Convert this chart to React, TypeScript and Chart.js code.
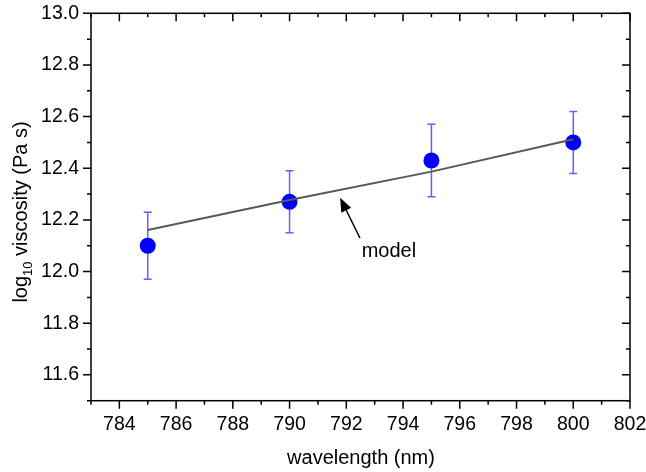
import React, { useEffect, useRef } from "react";
import { Chart, registerables } from "chart.js";

Chart.register(...registerables);

const wavelengths = [785, 790, 795, 800];
const viscosity = [12.10, 12.27, 12.43, 12.50];
const viscosityErr = [0.13, 0.12, 0.14, 0.12];
const modelWavelengths = [785, 790, 795, 800];
const modelViscosity = [12.161, 12.277, 12.387, 12.512];
const xTicks = [784, 786, 788, 790, 792, 794, 796, 798, 800, 802];
const yTicks = [11.6, 11.8, 12.0, 12.2, 12.4, 12.6, 12.8, 13.0];
const xMinorTicks = [783, 785, 787, 789, 791, 793, 795, 797, 799, 801];
const yMinorTicks = [11.5, 11.7, 11.9, 12.1, 12.3, 12.5, 12.7, 12.9];
const xTitle = "wavelength (nm)";
const annotationText = "model";
const annotationPos = { x: 792.54, y: 12.058 };
const arrowTail = { x: 792.48, y: 12.13 };
const arrowTip = { x: 791.78, y: 12.286 };

const FONT = 'Arial, "Liberation Sans", sans-serif';

const customPlugin = {
  id: "custom",
  beforeDatasetsDraw(chart: any) {
    const ctx = chart.ctx;
    const xs = chart.scales.x;
    const ys = chart.scales.y;
    ctx.save();
    ctx.strokeStyle = "rgba(30,30,255,0.7)";
    ctx.lineWidth = 1.5;
    wavelengths.forEach((w, i) => {
      const px = xs.getPixelForValue(w);
      const top = ys.getPixelForValue(viscosity[i] + viscosityErr[i]);
      const bot = ys.getPixelForValue(viscosity[i] - viscosityErr[i]);
      ctx.beginPath();
      ctx.moveTo(px, top);
      ctx.lineTo(px, bot);
      ctx.moveTo(px - 4, top);
      ctx.lineTo(px + 4, top);
      ctx.moveTo(px - 4, bot);
      ctx.lineTo(px + 4, bot);
      ctx.stroke();
    });
    ctx.restore();
  },
  afterDraw(chart: any) {
    const ctx = chart.ctx;
    const xs = chart.scales.x;
    const ys = chart.scales.y;
    const a = chart.chartArea;
    ctx.save();
    ctx.strokeStyle = "#000";
    ctx.lineWidth = 1.5;
    ctx.strokeRect(a.left, a.top, a.right - a.left, a.bottom - a.top);
    const MAJ = 8;
    const MIN = 4;
    ctx.beginPath();
    const xt = (v: number, len: number) => {
      const p = xs.getPixelForValue(v);
      ctx.moveTo(p, a.bottom);
      ctx.lineTo(p, a.bottom + len);
      ctx.moveTo(p, a.top);
      ctx.lineTo(p, a.top + len);
    };
    const yt = (v: number, len: number) => {
      const p = ys.getPixelForValue(v);
      ctx.moveTo(a.left, p);
      ctx.lineTo(a.left - len, p);
      ctx.moveTo(a.right, p);
      ctx.lineTo(a.right - len, p);
    };
    xTicks.forEach((v) => xt(v, MAJ));
    xMinorTicks.forEach((v) => xt(v, MIN));
    yTicks.forEach((v) => yt(v, MAJ));
    yMinorTicks.forEach((v) => yt(v, MIN));
    ctx.stroke();

    // annotation
    ctx.fillStyle = "#000";
    ctx.font = `20px ${FONT}`;
    ctx.textAlign = "left";
    ctx.textBaseline = "alphabetic";
    ctx.fillText(annotationText, xs.getPixelForValue(annotationPos.x), ys.getPixelForValue(annotationPos.y));
    const tx = xs.getPixelForValue(arrowTail.x);
    const ty = ys.getPixelForValue(arrowTail.y);
    const hx = xs.getPixelForValue(arrowTip.x);
    const hy = ys.getPixelForValue(arrowTip.y);
    const ang = Math.atan2(hy - ty, hx - tx);
    const hl = 14;
    const hw = 5.5;
    const bx = hx - hl * Math.cos(ang);
    const by = hy - hl * Math.sin(ang);
    ctx.lineWidth = 1.5;
    ctx.beginPath();
    ctx.moveTo(tx, ty);
    ctx.lineTo(bx, by);
    ctx.stroke();
    ctx.beginPath();
    ctx.moveTo(hx, hy);
    ctx.lineTo(bx + hw * Math.sin(ang), by - hw * Math.cos(ang));
    ctx.lineTo(bx - hw * Math.sin(ang), by + hw * Math.cos(ang));
    ctx.closePath();
    ctx.fill();

    // axis titles
    ctx.font = `20px ${FONT}`;
    ctx.textAlign = "center";
    ctx.fillText(xTitle, (a.left + a.right) / 2 + 0.5, 464);

    ctx.save();
    ctx.translate(27, 212);
    ctx.rotate(-Math.PI / 2);
    const p1 = "log";
    const sub = "10";
    const p2 = " viscosity (Pa s)";
    ctx.font = `20px ${FONT}`;
    const w1 = ctx.measureText(p1).width;
    const w3 = ctx.measureText(p2).width;
    ctx.font = `13px ${FONT}`;
    const w2 = ctx.measureText(sub).width;
    const total = w1 + w2 + w3;
    let x0 = -total / 2;
    ctx.textAlign = "left";
    ctx.font = `20px ${FONT}`;
    ctx.fillText(p1, x0, 0);
    x0 += w1;
    ctx.font = `13px ${FONT}`;
    ctx.fillText(sub, x0, 5);
    x0 += w2;
    ctx.font = `20px ${FONT}`;
    ctx.fillText(p2, x0, 0);
    ctx.restore();
    ctx.restore();
  },
};

export default function App() {
  const ref = useRef<HTMLCanvasElement>(null);
  useEffect(() => {
    document.body.style.margin = "0";
    const chart = new Chart(ref.current!, {
      type: "scatter",
      data: {
        datasets: [
          {
            type: "line",
            label: "model",
            data: modelWavelengths.map((x, i) => ({ x, y: modelViscosity[i] })),
            borderColor: "#585858",
            borderWidth: 2,
            pointRadius: 0,
            fill: false,
            tension: 0,
          } as any,
          {
            type: "scatter",
            label: "measured",
            data: wavelengths.map((x, i) => ({ x, y: viscosity[i] })),
            backgroundColor: "#0000ff",
            borderColor: "#0000ff",
            borderWidth: 0,
            pointRadius: 8,
          },
        ],
      },
      options: {
        animation: false,
        responsive: true,
        maintainAspectRatio: false,
        layout: { padding: { top: 13.3, right: 16, left: 0, bottom: 0 } },
        plugins: { legend: { display: false }, tooltip: { enabled: false } },
        scales: {
          x: {
            type: "linear",
            min: 783,
            max: 802,
            grid: { display: false, drawTicks: false },
            border: { display: false },
            afterBuildTicks: (s: any) => {
              s.ticks = xTicks.map((v) => ({ value: v }));
            },
            afterFit: (s: any) => {
              s.height = 71.3;
              s.paddingLeft = 0;
              s.paddingRight = 0;
            },
            ticks: {
              padding: 12,
              color: "#000",
              font: { family: FONT, size: 19.5 },
              callback: (v: any) => String(v),
            },
          },
          y: {
            type: "linear",
            min: 11.5,
            max: 13.0,
            grid: { display: false, drawTicks: false },
            border: { display: false },
            afterBuildTicks: (s: any) => {
              s.ticks = yTicks.map((v) => ({ value: v }));
            },
            afterFit: (s: any) => {
              s.width = 91;
              s.paddingTop = 0;
              s.paddingBottom = 0;
            },
            ticks: {
              padding: 12,
              color: "#000",
              font: { family: FONT, size: 19.5 },
              callback: (v: any) => Number(v).toFixed(1),
            },
          },
        },
      },
      plugins: [customPlugin],
    });
    return () => chart.destroy();
  }, []);
  return (
    <div style={{ width: 646, height: 472, position: "relative" }}>
      <canvas ref={ref} />
    </div>
  );
}
